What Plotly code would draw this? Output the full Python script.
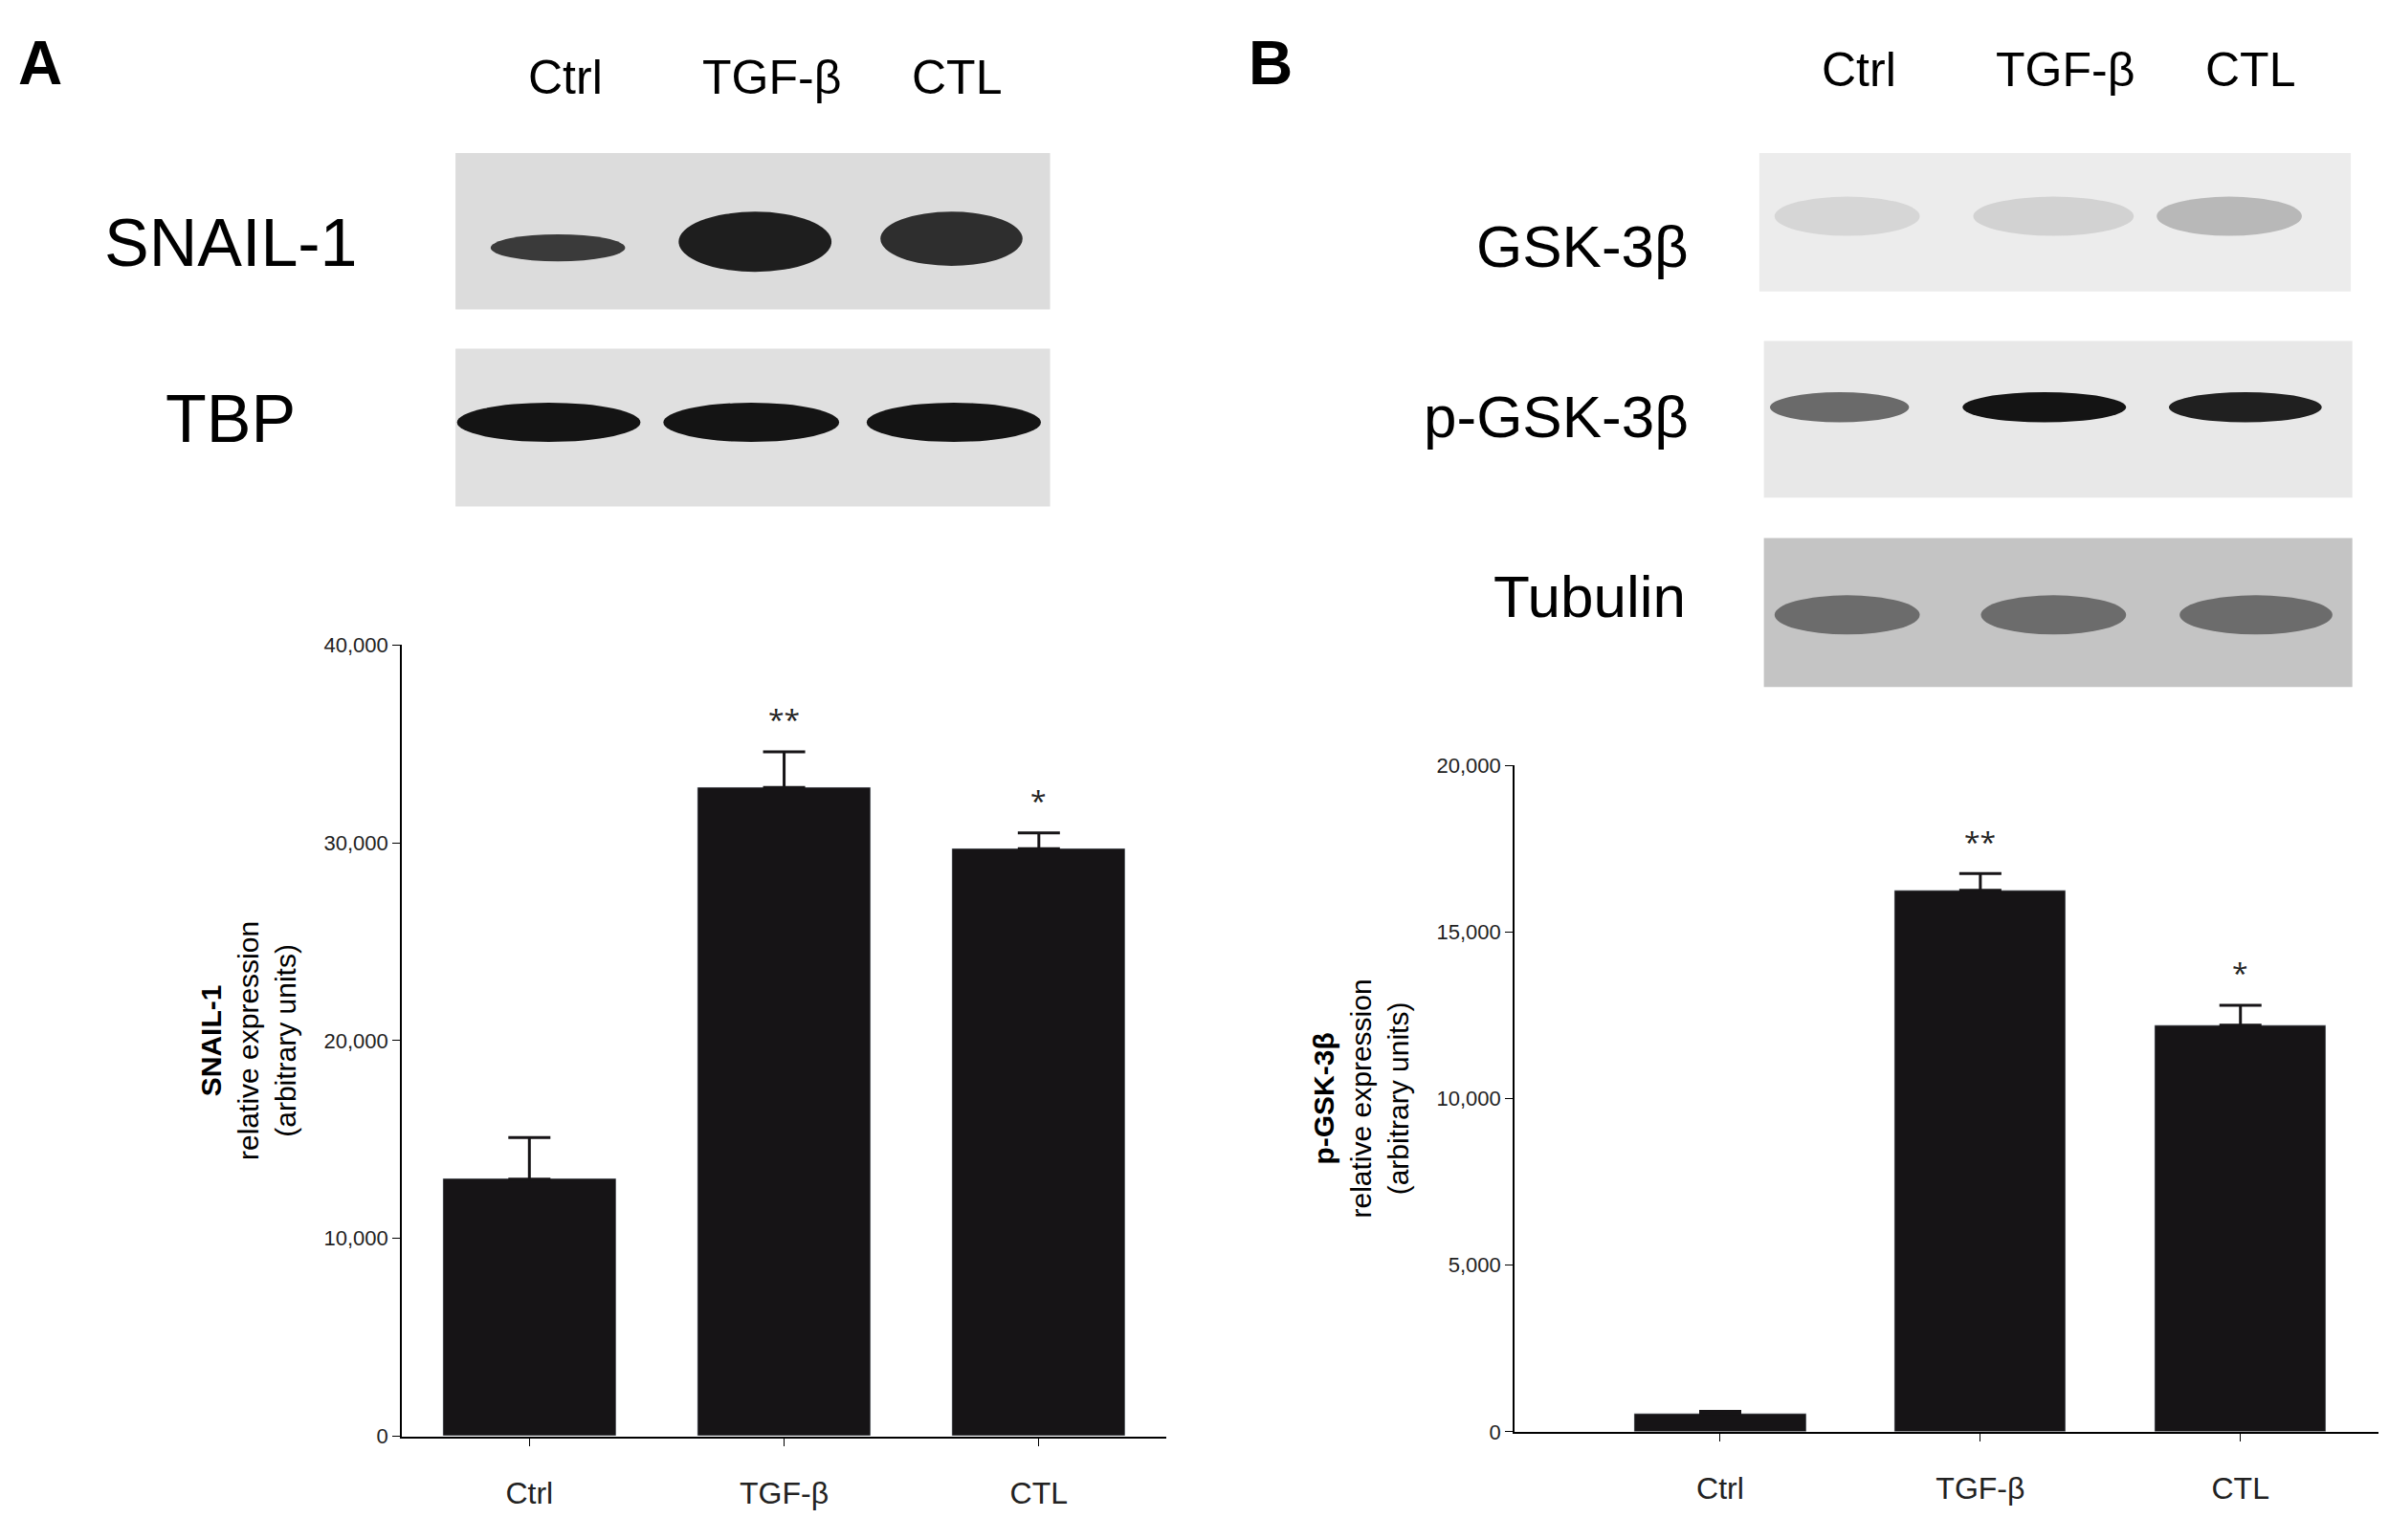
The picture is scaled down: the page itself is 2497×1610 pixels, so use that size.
import plotly.graph_objects as go

W, H = 2497, 1610
S = W / 1563  # reference was measured in 1563-wide units

groups = ["Ctrl", "TGF-β", "CTL"]
snail_vals = [13000, 32800, 29700]
snail_err = [2100, 1800, 800]
snail_sig = ["", "**", "*"]
gsk_vals = [550, 16250, 12200]
gsk_err = [60, 500, 600]
gsk_sig = ["", "**", "*"]


def fx(x):
    return (x - 4) * S / W


def fy(y):
    return 1 - (y - 4) * S / H


fig = go.Figure()
fig.add_trace(go.Bar(x=[0, 1, 2], y=snail_vals, width=0.68, marker_color="#161416",
                     error_y=dict(type="data", symmetric=False, array=snail_err, arrayminus=[0, 0, 0],
                                  color="#161416", thickness=3, width=22),
                     xaxis="x", yaxis="y", showlegend=False))
fig.add_trace(go.Bar(x=[0, 1, 2], y=gsk_vals, width=0.66, marker_color="#161416",
                     error_y=dict(type="data", symmetric=False, array=gsk_err, arrayminus=[0, 0, 0],
                                  color="#161416", thickness=3, width=22),
                     xaxis="x2", yaxis="y2", showlegend=False))

tickfont = dict(family="Liberation Sans, Arial", size=22, color="#222")
xtickfont = dict(family="Liberation Sans, Arial", size=32, color="#222")
titlefont = dict(family="Liberation Sans, Arial", size=30, color="black")
base = dict(showline=True, linecolor="black", linewidth=2, ticks="outside",
            ticklen=8, tickcolor="black", showgrid=False, zeroline=False)
fig.update_layout(
    width=W, height=H, margin=dict(l=0, r=0, t=0, b=0),
    plot_bgcolor="white", paper_bgcolor="white",
    xaxis=dict(domain=[fx(262), fx(762)], anchor="y", range=[-0.5, 2.5],
               tickvals=[0, 1, 2], ticktext=groups, tickfont=xtickfont, ticklabelstandoff=22, **base),
    yaxis=dict(domain=[fy(946), fy(420)], anchor="x", range=[0, 40000],
               tickvals=[0, 10000, 20000, 30000, 40000], tickformat=",", tickfont=tickfont,
               title=dict(text="<b>SNAIL-1</b><br>relative expression<br>(arbitrary units)",
                          font=titlefont, standoff=20),
               **base),
    xaxis2=dict(domain=[fx(990), fx(1555)], anchor="y2", range=[-0.79, 2.53],
                tickvals=[0, 1, 2], ticktext=groups, tickfont=xtickfont, ticklabelstandoff=22, **base),
    yaxis2=dict(domain=[fy(943), fy(500)], anchor="x2", range=[0, 20000],
                tickvals=[0, 5000, 10000, 15000, 20000], tickformat=",", tickfont=tickfont,
                title=dict(text="<b>p-GSK-3β</b><br>relative expression<br>(arbitrary units)",
                           font=titlefont, standoff=20),
                **base),
    bargap=0,
)

# significance stars
for i, (v, e, s) in enumerate(zip(snail_vals, snail_err, snail_sig)):
    if s:
        fig.add_annotation(x=i, y=v + e, xref="x", yref="y", text=s, showarrow=False,
                           yshift=34, font=dict(size=30, color="#222"))
for i, (v, e, s) in enumerate(zip(gsk_vals, gsk_err, gsk_sig)):
    if s:
        fig.add_annotation(x=i, y=v + e, xref="x2", yref="y2", text=s, showarrow=False,
                           yshift=34, font=dict(size=30, color="#222"))


def text(x, y, t, size, anchor="center", bold=False):
    fig.add_annotation(x=fx(x), y=fy(y), xref="paper", yref="paper", text=f"<b>{t}</b>" if bold else t,
                       showarrow=False, xanchor=anchor, yanchor="middle",
                       font=dict(family="Liberation Sans, Arial", size=size, color="black"))


def rect(x0, y0, x1, y1, color):
    fig.add_shape(type="rect", xref="paper", yref="paper", x0=fx(x0), x1=fx(x1), y0=fy(y1), y1=fy(y0),
                  fillcolor=color, line_width=0, layer="below")


def band(x0, x1, yc, h, color):
    fig.add_shape(type="circle", xref="paper", yref="paper", x0=fx(x0), x1=fx(x1),
                  y0=fy(yc + h / 2), y1=fy(yc - h / 2), fillcolor=color, line_width=0)


# panel letters and lane headers
text(25, 33, "A", 64, bold=True)
text(830, 33, "B", 64, bold=True)
for x, g in zip([369, 504, 625], groups):
    text(x, 43, g, 50)
for x, g in zip([1215, 1350, 1471], groups):
    text(x, 38, g, 50)

# panel A blots
text(150, 153, "SNAIL-1", 70)
text(150, 270, "TBP", 70)
rect(297, 93, 686, 197, "#dcdcdc")
band(320, 408, 156, 18, "#3a3a3a")
band(443, 543, 152, 40, "#1e1e1e")
band(575, 668, 150, 36, "#2e2e2e")
rect(297, 223, 686, 328, "#e0e0e0")
for a, b in [(298, 418), (433, 548), (566, 680)]:
    band(a, b, 272, 26, "#141414")

# panel B blots
text(1105, 155, "GSK-3β", 62, anchor="right")
text(1105, 268, "p-GSK-3β", 62, anchor="right")
text(1103, 388, "Tubulin", 62, anchor="right")
rect(1150, 93, 1537, 185, "#ececec")
for a, b, c in [(1160, 1255, "#d6d6d6"), (1290, 1395, "#d2d2d2"), (1410, 1505, "#b8b8b8")]:
    band(a, b, 135, 26, c)
rect(1153, 218, 1538, 322, "#e8e8e8")
for a, b, c in [(1157, 1248, "#6a6a6a"), (1283, 1390, "#141414"), (1418, 1518, "#202020")]:
    band(a, b, 262, 20, c)
rect(1153, 349, 1538, 448, "#c4c4c4")
for a, b in [(1160, 1255), (1295, 1390), (1425, 1525)]:
    band(a, b, 400, 26, "#6c6c6c")

fig.write_html("out.html")
